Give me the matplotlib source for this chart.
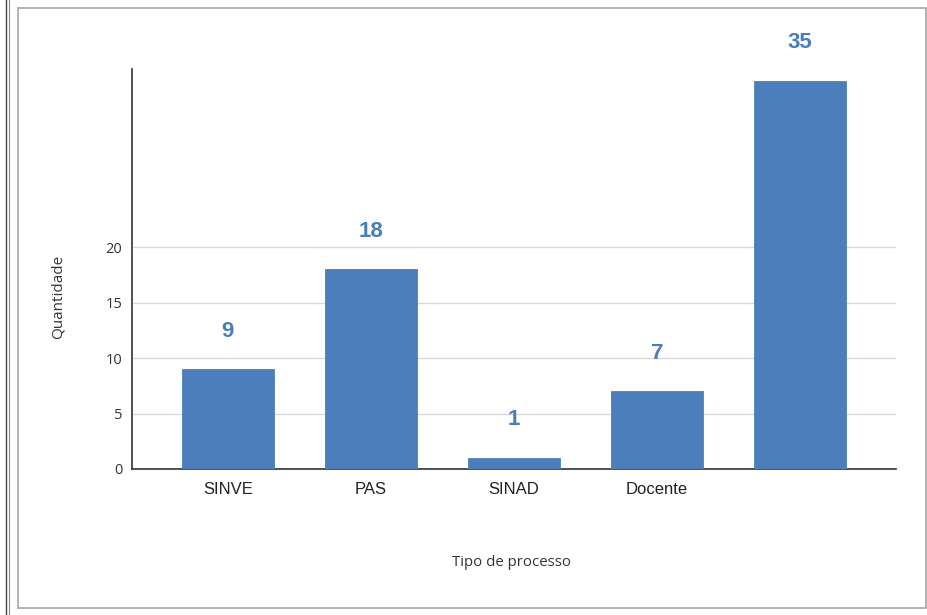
import matplotlib
matplotlib.use("Agg")
import matplotlib.pyplot as plt
from matplotlib.patches import Rectangle
from matplotlib.lines import Line2D

categories = ["SINVE", "PAS", "SINAD", "Docente", ""]
values = [9, 18, 1, 7, 35]
yticks = [0, 5, 10, 15, 20]

bar_color = "#4d7ebc"
label_color = "#4a7ebb"

fig = plt.figure(figsize=(9.28, 6.15), dpi=100)
fig.patch.set_facecolor("white")

# outer frame
fig.add_artist(Rectangle((18/928, 1-608/615), (926-18)/928, (608-8)/615,
                         transform=fig.transFigure, fill=False,
                         edgecolor="#a6a6a6", linewidth=1.2))
fig.add_artist(Line2D([6/928, 6/928], [0, 1], transform=fig.transFigure,
                      color="#444444", linewidth=1.0))
fig.add_artist(Line2D([9/928, 9/928], [0, 1], transform=fig.transFigure,
                      color="#888888", linewidth=0.8))

ax = fig.add_axes([132/928, 1-469/615, (896-132)/928, (469-69)/615])
x = list(range(len(categories)))
ax.bar(x, values, width=0.64, color=bar_color, edgecolor=bar_color,
       linewidth=0.6, joinstyle="round", zorder=3)

ax.set_xlim(-0.67, len(categories) - 1 + 0.67)
ax.set_ylim(0, 36.05)
ax.set_yticks(yticks)
ax.set_yticklabels([str(v) for v in yticks], fontfamily="Open Sans",
                   fontsize=10.5, color="#333333")
ax.set_xticks(x)
ax.set_xticklabels(categories, fontfamily="Liberation Sans", fontsize=12,
                   color="#222222")
ax.tick_params(axis="both", length=0)
ax.tick_params(axis="x", pad=9)
ax.tick_params(axis="y", pad=7)

ax.grid(axis="y", color="#d9d9d9", linewidth=1.0, zorder=0)
ax.grid(axis="x", visible=False)
for s in ["top", "right"]:
    ax.spines[s].set_visible(False)
ax.spines["left"].set_color("#333333")
ax.spines["bottom"].set_color("#333333")
ax.spines["left"].set_linewidth(1.2)
ax.spines["bottom"].set_linewidth(1.2)

for xi, v in zip(x, values):
    ax.annotate(str(v), (xi, v), xytext=(0, 38 * 0.72), textcoords="offset points",
                ha="center", va="center", fontsize=16, fontweight="bold",
                fontfamily="Liberation Sans", color=label_color)

fig.text(58/928, 1-297/615, "Quantidade", rotation=90, ha="center", va="center",
         fontfamily="Open Sans", fontsize=11, color="#333333")
fig.text(512/928, 1-563/615, "Tipo de processo", ha="center", va="center",
         fontfamily="Open Sans", fontsize=10.8, color="#333333")

fig.savefig("out.png", dpi=100)
